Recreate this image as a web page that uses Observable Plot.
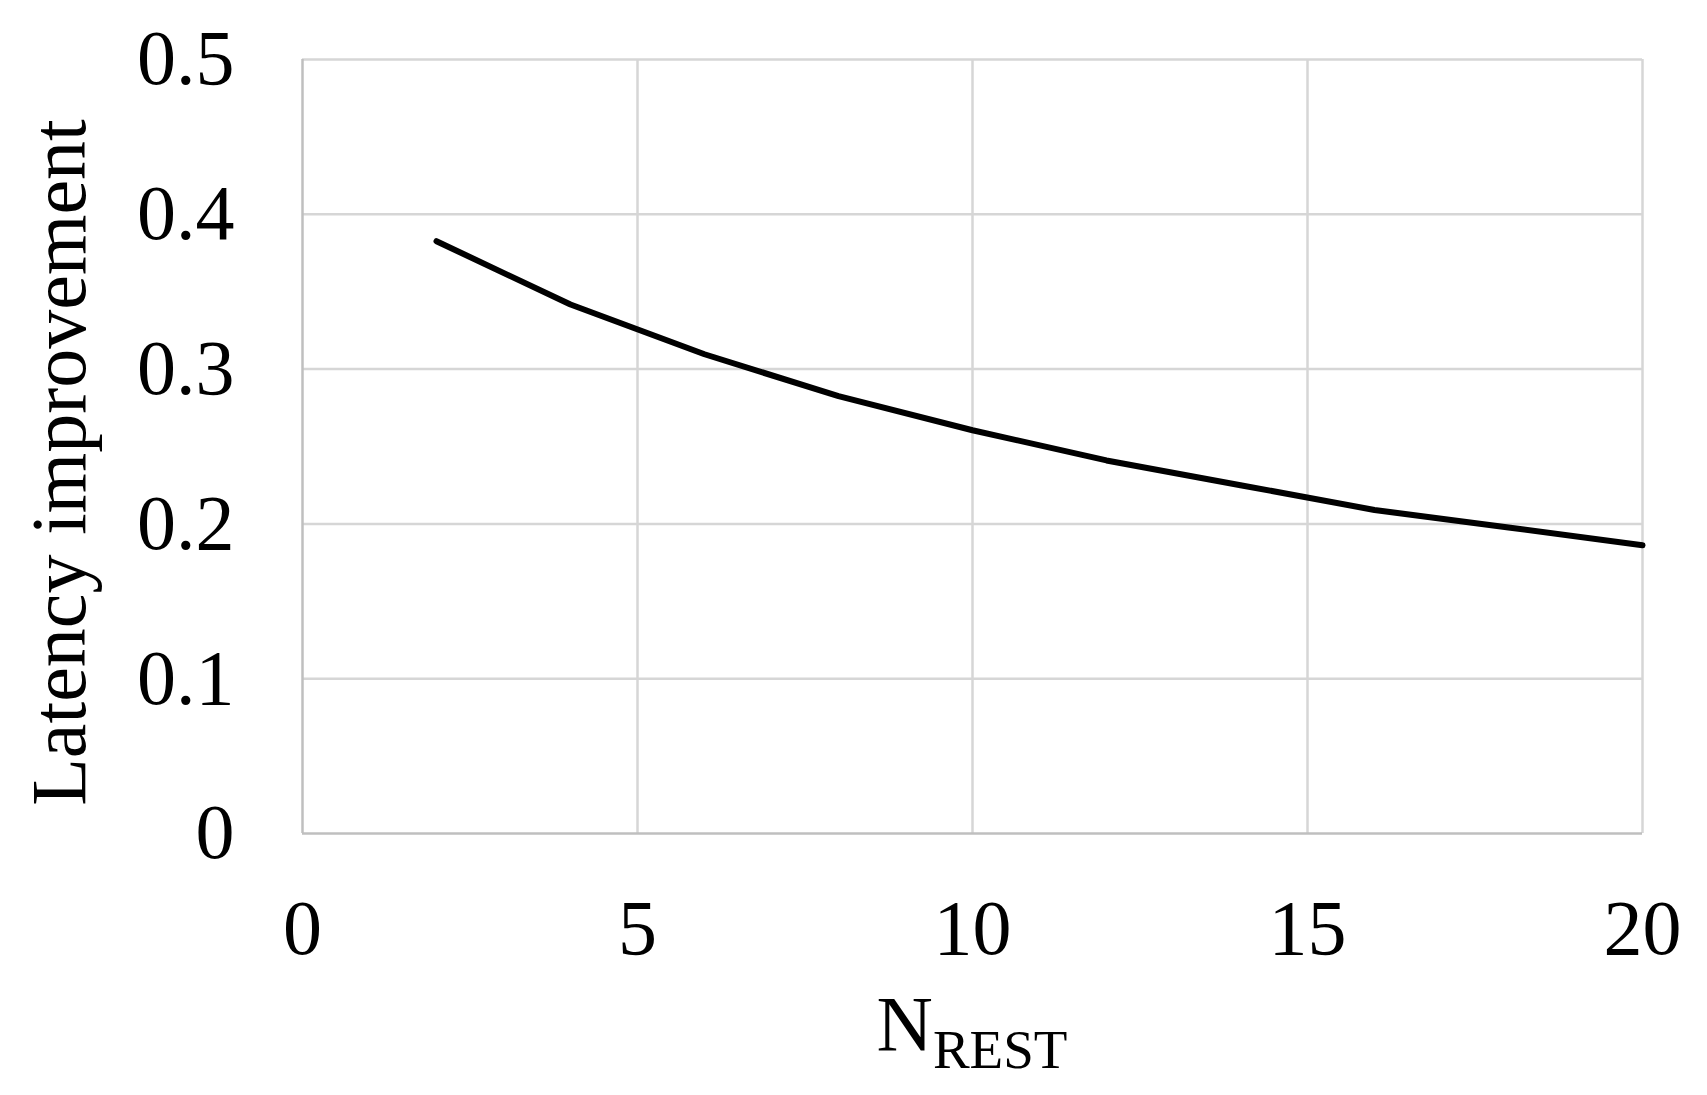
<!DOCTYPE html>
<html>
<head>
<meta charset="utf-8">
<script src="https://cdn.jsdelivr.net/npm/d3@7"></script>
<script src="https://cdn.jsdelivr.net/npm/@observablehq/plot@0.6"></script>
<style>
  html, body { margin: 0; padding: 0; background: #fff; }
  #chart svg { display: block; }
</style>
</head>
<body>
<div id="chart"></div>
<script>
const nRest = [2, 4, 6, 8, 10, 12, 14, 16, 18, 20];
const latencyImprovement = [0.3826, 0.3417, 0.3096, 0.2825, 0.2605, 0.241, 0.225, 0.209, 0.1977, 0.1862];
const xTicks = [0, 5, 10, 15, 20];
const yTicks = [0, 0.1, 0.2, 0.3, 0.4, 0.5];
const yLabel = "Latency improvement";
const xLabelMain = "N";
const xLabelSub = "REST";

const data = nRest.map((n, i) => ({n, v: latencyImprovement[i]}));

const W = 1707, H = 1095;
const mL = 302, mR = 65, mT = 59, mB = 262;
const font = "'Liberation Serif', 'Times New Roman', serif";

const svg = Plot.plot({
  width: W,
  height: H,
  marginLeft: mL,
  marginRight: mR,
  marginTop: mT,
  marginBottom: mB,
  style: {fontFamily: font, background: "#fff", color: "#000", overflow: "visible"},
  x: {domain: [0, 20]},
  y: {domain: [0, 0.5]},
  marks: [
    Plot.gridX(xTicks.filter(d => d > 0), {stroke: "#d6d6d6", strokeOpacity: 1, strokeWidth: 2.5}),
    Plot.gridY(yTicks.filter(d => d > 0), {stroke: "#d6d6d6", strokeOpacity: 1, strokeWidth: 2.5}),
    Plot.ruleX([0], {stroke: "#bfbfbf", strokeWidth: 2.5}),
    Plot.ruleY([0], {stroke: "#bfbfbf", strokeWidth: 2.5}),
    Plot.axisX({ticks: xTicks, tickSize: 0, tickPadding: 65, fontSize: 78, label: null, tickFormat: d => String(d)}),
    Plot.axisY({ticks: yTicks, tickSize: 0, tickPadding: 68, fontSize: 78, label: null, tickFormat: d => String(d)}),
    Plot.text([yLabel], {frameAnchor: "left", textAnchor: "middle", rotate: -90, dx: -242, dy: 16, fontSize: 78, lineAnchor: "middle", fill: "#000"}),
    Plot.line(data, {x: "n", y: "v", stroke: "#000", strokeWidth: 6, strokeLinecap: "round", strokeLinejoin: "round"})
  ]
});

const s = d3.select(svg);
const t = s.append("text")
  .attr("x", (mL + (W - mR)) / 2)
  .attr("y", 1050)
  .attr("text-anchor", "middle")
  .attr("font-family", font)
  .attr("fill", "#000");
t.append("tspan").attr("font-size", 78).text(xLabelMain);
t.append("tspan").attr("font-size", 55).attr("dy", 18).text(xLabelSub);

document.getElementById("chart").appendChild(svg);
</script>
</body>
</html>
